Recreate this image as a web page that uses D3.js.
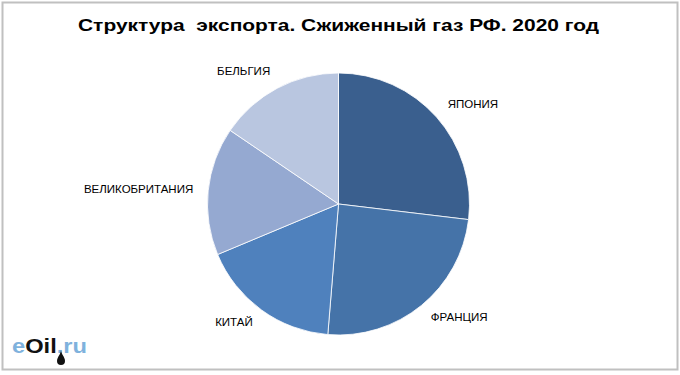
<!DOCTYPE html>
<html>
<head>
<meta charset="utf-8">
<script src="https://cdn.jsdelivr.net/npm/d3@7"></script>
<style>
  html, body { margin: 0; padding: 0; background: #fff; }
  svg { display: block; font-family: "Liberation Sans", Arial, sans-serif; }
</style>
</head>
<body>
<div id="chart"></div>
<script>
// Pie of Russian LNG export structure, 2020 (shares, %).
const countries = ['ЯПОНИЯ', 'ФРАНЦИЯ', 'КИТАЙ', 'ВЕЛИКОБРИТАНИЯ', 'БЕЛЬГИЯ'];
const shares = [26.9, 24.4, 17.4, 15.8, 15.5];
const colors = ['#3a5f8e', '#4573a8', '#4f81bd', '#95a9d1', '#b9c6e0'];
const title = 'Структура  экспорта. Сжиженный газ РФ. 2020 год';

const W = 680, H = 375;
const cx = 338.5, cy = 204, radius = 131;

const svg = d3.select('#chart').append('svg')
    .attr('width', W)
    .attr('height', H);

// outer frame
svg.append('rect')
    .attr('x', 2.5).attr('y', 2.5)
    .attr('width', 675).attr('height', 367)
    .attr('fill', '#fff')
    .attr('stroke', '#c0c0c0')
    .attr('stroke-width', 2);

// the title in the source is drawn wider than its height suggests
svg.append('text')
    .attr('x', 78)
    .attr('y', 31)
    .attr('font-size', 16.5)
    .attr('font-weight', 'bold')
    .attr('fill', '#000')
    .attr('textLength', 521)
    .attr('lengthAdjust', 'spacingAndGlyphs')
    .style('white-space', 'pre')
    .text(title);

const data = countries.map((name, i) => ({name, value: shares[i], color: colors[i]}));

const pie = d3.pie()
    .sort(null)
    .value(d => d.value);

const arc = d3.arc().innerRadius(0).outerRadius(radius);

const g = svg.append('g').attr('transform', `translate(${cx},${cy})`);

const arcs = pie(data);

g.selectAll('path.slice')
    .data(arcs)
    .enter()
    .append('path')
    .attr('class', 'slice')
    .attr('d', arc)
    .attr('fill', d => d.data.color)
    .attr('stroke', '#fff')
    .attr('stroke-width', 0.8);

// outside labels, anchored away from the pie; upper ones lifted a bit
const labelR = radius + 15;
const mid = d => (d.startAngle + d.endAngle) / 2;
g.selectAll('text.label')
    .data(arcs)
    .enter()
    .append('text')
    .attr('class', 'label')
    .attr('x', d => labelR * Math.sin(mid(d)))
    .attr('y', d => -labelR * Math.cos(mid(d)) - 4 * Math.max(Math.cos(mid(d)), 0))
    .attr('dy', '0.35em')
    .attr('text-anchor', d => Math.sin(mid(d)) >= 0 ? 'start' : 'end')
    .attr('font-size', 11.5)
    .attr('fill', '#000')
    .text(d => d.data.name);

// eOil.ru watermark
const logo = svg.append('text')
    .attr('x', 12)
    .attr('y', 353)
    .attr('font-size', 21)
    .attr('font-weight', 'bold')
    .attr('textLength', 75)
    .attr('lengthAdjust', 'spacingAndGlyphs');
logo.append('tspan').attr('fill', '#7fb2dd').text('e');
logo.append('tspan').attr('fill', '#111').text('Oil');
logo.append('tspan').attr('fill', '#7fb2dd').text('.ru');

// oil drop under the logo
svg.append('path')
    .attr('d', 'M61,350 C61,354 57,357 57,361 A4,4 0 0 0 65,361 C65,357 61,354 61,350 Z')
    .attr('fill', '#111');
</script>
</body>
</html>
